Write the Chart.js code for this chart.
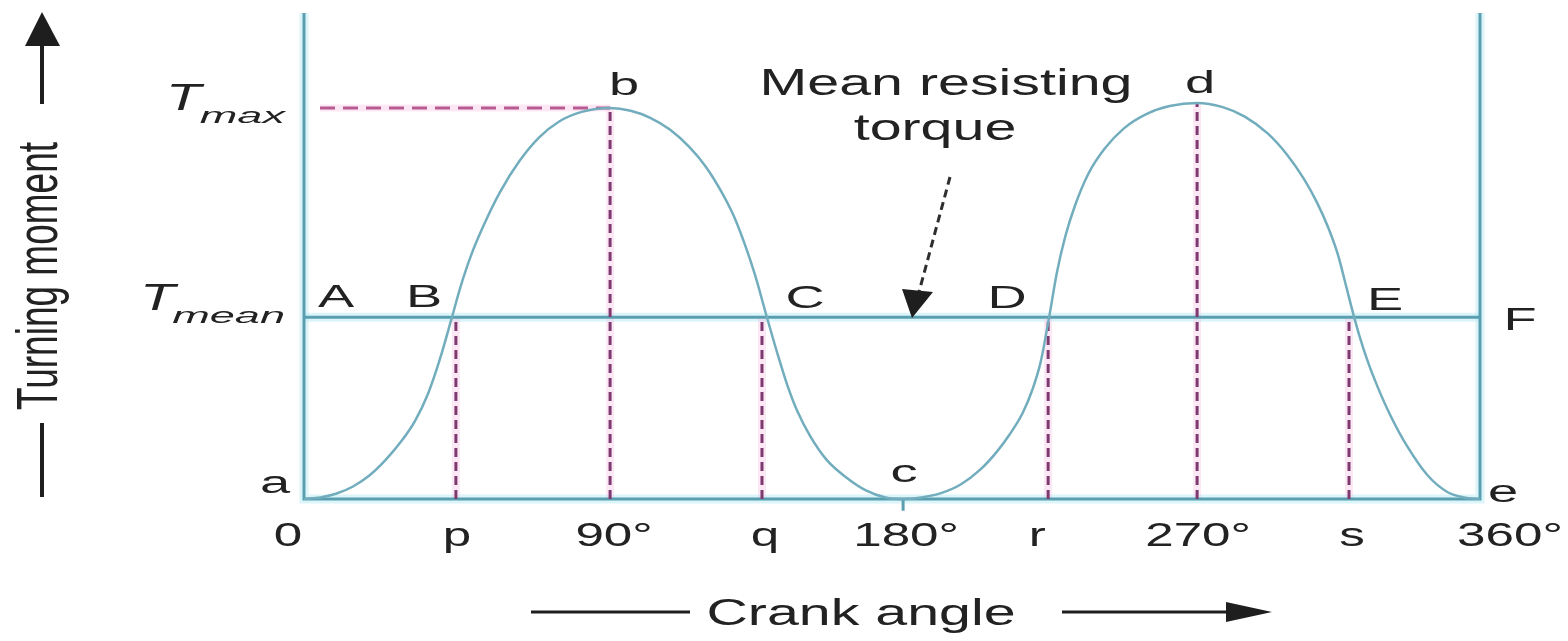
<!DOCTYPE html>
<html>
<head>
<meta charset="utf-8">
<title>Turning moment diagram</title>
<script src="https://cdn.jsdelivr.net/npm/chart.js@4.4.1/dist/chart.umd.min.js"></script>
<style>
  html, body { margin: 0; padding: 0; background: #fff; overflow: hidden; }
  canvas { display: block; }
</style>
</head>
<body>
<canvas id="chart" width="1568" height="641"></canvas>
<script>
/* ===================== DATA ===================== */
// crank angle (deg, as drawn) vs turning moment (fraction of Tmax)
const crankAngle = [
  0, 5, 10, 15, 20, 25, 30, 34, 38, 41.5, 45.3, 48, 51, 55, 60, 66, 72, 78, 85, 93.7,
  100, 106, 112, 118, 123, 127.5, 131.5, 135, 138, 141.7, 145, 148, 151, 155, 160, 166, 172, 178, 183.4,
  189, 195, 201, 207, 212, 216, 220, 223, 225.5, 228.1, 230.5, 233, 236, 240, 245, 251, 258, 265, 273.4,
  281, 288, 295, 301, 306, 310, 313.5, 316.5, 319, 321, 323, 325.5, 328.5, 332.5, 337.7, 344, 350, 355, 360
];
const turningMoment = [
  0, 0.004, 0.014, 0.032, 0.06, 0.1, 0.15, 0.2, 0.27, 0.355, 0.465, 0.545, 0.62, 0.7, 0.785, 0.865, 0.925, 0.965, 0.99, 1.0,
  0.993, 0.975, 0.945, 0.9, 0.85, 0.79, 0.725, 0.65, 0.575, 0.465, 0.37, 0.29, 0.225, 0.16, 0.1, 0.055, 0.022, 0.004, 0,
  0.004, 0.015, 0.037, 0.075, 0.12, 0.165, 0.22, 0.28, 0.35, 0.465, 0.58, 0.67, 0.75, 0.83, 0.895, 0.948, 0.985, 1.005, 1.013,
  1.003, 0.978, 0.935, 0.88, 0.82, 0.76, 0.695, 0.625, 0.545, 0.48, 0.42, 0.355, 0.29, 0.215, 0.135, 0.06, 0.018, 0.004, 0
];

const T_MEAN = 0.465;
const T_MAX = 1.0;
const AXIS_TOP = 1.243;

// dashed drop lines: p, 90°, q, r, 270°, s
const dropAngles = [46.5, 93.7, 140.2, 227.8, 273.4, 319.9];
const dropTops = [0.465, 1.0, 0.465, 0.465, 1.013, 0.465];

const angleTicks = [0, 46.5, 93.7, 140.2, 183.4, 227.8, 273.4, 319.9, 360];
const angleLabels = ["0", "p", "90°", "q", "180°", "r", "270°", "s", "360°"];

const levelValues = [T_MAX, T_MEAN];
const levelNames = ["max", "mean"];

/* ===================== STYLE ===================== */
const TEAL = "#5a9fb0";
const GLOW = "rgba(185, 236, 246, 0.5)";
const CURVE = "#72adbd";
const DASH = "#7e3a70";
const PINK_GLOW = "rgba(245, 190, 225, 0.35)";
const INK = "#222";
const FONT = "'Liberation Sans', Arial, sans-serif";

/* ===================== DATASETS ===================== */
const curvePts = crankAngle.map((a, i) => ({ x: a, y: turningMoment[i] }));

const framePts = [
  { x: 0, y: AXIS_TOP }, { x: 0, y: 0 }, { x: 360, y: 0 }, { x: 360, y: AXIS_TOP }
];
const meanPts = [{ x: 0, y: T_MEAN }, { x: 360, y: T_MEAN }];

// drop lines as one broken polyline
const dropPts = [];
dropAngles.forEach((a, i) => {
  dropPts.push({ x: a, y: 0 }, { x: a, y: dropTops[i] }, { x: a, y: null });
});

const maxGuide = [{ x: 4.9, y: T_MAX }, { x: dropAngles[1], y: T_MAX }];
const cTick = [{ x: angleTicks[4], y: 0 }, { x: angleTicks[4], y: -0.03 }];

function line(data, color, width, extra) {
  return Object.assign({
    data,
    borderColor: color,
    borderWidth: width,
    pointRadius: 0,
    fill: false,
    tension: 0,
    clip: false,
    spanGaps: false
  }, extra || {});
}

const datasets = [
  line(framePts, GLOW, 9, { order: 20 }),
  line(meanPts, GLOW, 9, { order: 20 }),
  line(dropPts, PINK_GLOW, 8, { order: 19 }),
  line(maxGuide, PINK_GLOW, 7, { order: 19 }),
  line(framePts, TEAL, 3, { order: 5 }),
  line(meanPts, TEAL, 3, { order: 5 }),
  line(cTick, TEAL, 3, { order: 5 }),
  line(dropPts, DASH, 3, { order: 4, borderDash: [9, 5] }),
  line(maxGuide, "#b85a92", 3, { order: 4, borderDash: [15, 8] }),
  line(curvePts, CURVE, 2.5, { order: 1, cubicInterpolationMode: "monotone" })
];

/* ===================== TEXT / ARROWS ===================== */
function stretchText(ctx, txt, x, y, size, sx, opts) {
  opts = opts || {};
  ctx.save();
  ctx.translate(x, y);
  if (opts.rotate) ctx.rotate(opts.rotate);
  ctx.scale(sx, opts.sy || 1);
  ctx.font = (opts.italic ? "italic " : "") + size + "px " + FONT;
  ctx.fillStyle = INK;
  ctx.textAlign = opts.align || "center";
  ctx.textBaseline = "alphabetic";
  ctx.fillText(txt, 0, 0);
  ctx.restore();
}

function arrowHead(ctx, pts) {
  ctx.beginPath();
  ctx.moveTo(pts[0][0], pts[0][1]);
  ctx.lineTo(pts[1][0], pts[1][1]);
  ctx.lineTo(pts[2][0], pts[2][1]);
  ctx.closePath();
  ctx.fill();
}

const labelsPlugin = {
  id: "labels",
  afterDraw(chart) {
    const ctx = chart.ctx;
    const xs = chart.scales.x, ys = chart.scales.y;

    // crank angle ticks
    const nudge = [-16, 1, 4, 3, 3, -11, 1, 3, 30];
    angleTicks.forEach((v, i) => {
      stretchText(ctx, angleLabels[i], xs.getPixelForValue(v) + nudge[i], 546, 33, 1.55);
    });

    // T levels
    levelValues.forEach((v, i) => {
      const py = ys.getPixelForValue(v);
      const tx = i === 0 ? 166 : 140;
      const dy = i === 0 ? 2 : -7;
      stretchText(ctx, "T", tx, py + dy, 37, 1.55, { italic: true, align: "left" });
      stretchText(ctx, levelNames[i], 285, py + dy + 13, 22, 2.05, { italic: true, align: "right" });
    });

    // point letters
    const letters = [
      ["a", 275, 493], ["A", 336, 307], ["B", 424, 307], ["b", 624, 95],
      ["C", 805, 308], ["c", 904, 482], ["D", 1007, 308], ["d", 1200, 93],
      ["E", 1385, 310], ["e", 1503, 502], ["F", 1520, 330]
    ];
    letters.forEach(l => stretchText(ctx, l[0], l[1], l[2], 31, 1.75));

    // mean resisting torque callout
    stretchText(ctx, "Mean resisting", 946, 95, 37, 1.55);
    stretchText(ctx, "torque", 935, 140, 37, 1.55);
    ctx.save();
    ctx.strokeStyle = "#2e2e2e";
    ctx.fillStyle = "#1e1e1e";
    ctx.lineWidth = 3;
    ctx.setLineDash([8, 5]);
    ctx.beginPath();
    ctx.moveTo(950, 177);
    ctx.lineTo(919, 292);
    ctx.stroke();
    ctx.setLineDash([]);
    arrowHead(ctx, [[902, 289], [933, 292], [912, 318]]);
    ctx.restore();

    // x axis title
    ctx.save();
    ctx.strokeStyle = "#1e1e1e";
    ctx.fillStyle = "#1e1e1e";
    ctx.lineWidth = 3;
    ctx.beginPath();
    ctx.moveTo(531, 612); ctx.lineTo(690, 612);
    ctx.moveTo(1062, 612); ctx.lineTo(1235, 612);
    ctx.stroke();
    arrowHead(ctx, [[1226, 602], [1272, 612], [1226, 622]]);
    ctx.restore();
    stretchText(ctx, "Crank angle", 861, 625, 37, 1.55);

    // y axis title
    ctx.save();
    ctx.strokeStyle = "#1e1e1e";
    ctx.fillStyle = "#1e1e1e";
    ctx.lineWidth = 4;
    ctx.beginPath();
    ctx.moveTo(42, 104); ctx.lineTo(42, 40);
    ctx.moveTo(42, 423); ctx.lineTo(42, 497);
    ctx.stroke();
    arrowHead(ctx, [[25, 46], [42, 12], [60, 46]]);
    ctx.restore();
    stretchText(ctx, "Turning moment", 57, 276, 37, 1, { rotate: -Math.PI / 2, sy: 1.55 });
  }
};

/* ===================== CHART ===================== */
new Chart(document.getElementById("chart"), {
  type: "line",
  data: { datasets },
  options: {
    responsive: false,
    animation: false,
    devicePixelRatio: 1,
    layout: { padding: { left: 304, right: 88, top: 13, bottom: 142 } },
    plugins: { legend: { display: false }, tooltip: { enabled: false } },
    scales: {
      x: { type: "linear", min: 0, max: 360, display: false },
      y: { type: "linear", min: 0, max: AXIS_TOP, display: false }
    }
  },
  plugins: [labelsPlugin]
});
</script>
</body>
</html>
